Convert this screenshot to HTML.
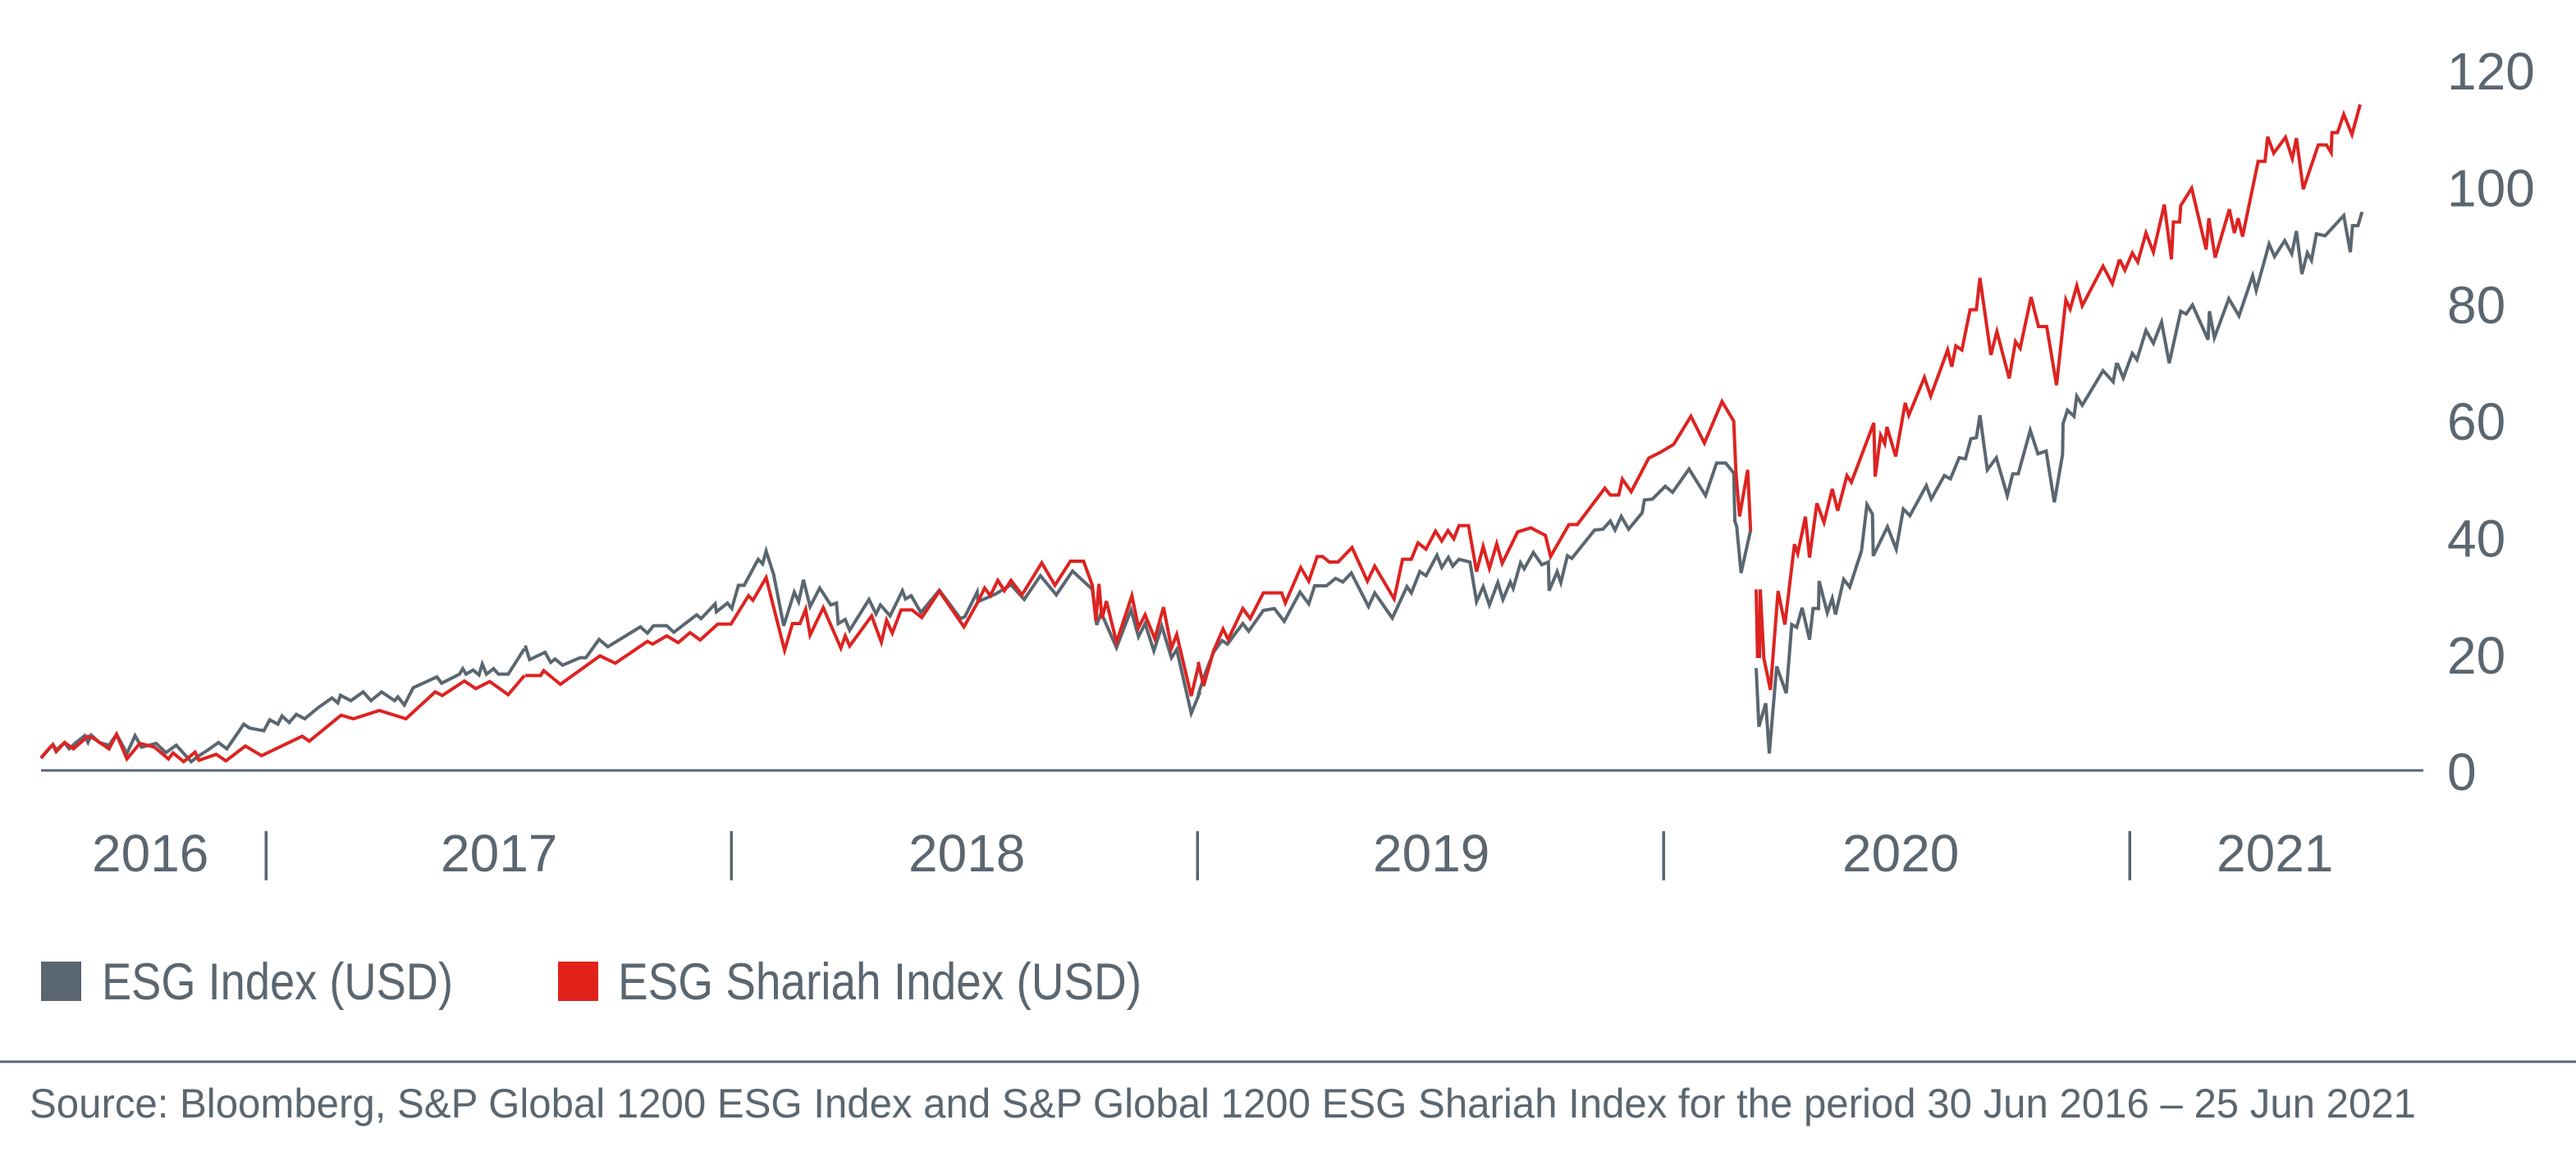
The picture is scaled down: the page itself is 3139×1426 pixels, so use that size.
<!DOCTYPE html>
<html>
<head>
<meta charset="utf-8">
<style>
  html,body{margin:0;padding:0;background:#ffffff;}
  svg{display:block;}
  text{font-family:"Liberation Sans", Arial, sans-serif; fill:#5a6670;}
  .ser{fill:none;stroke-width:4;stroke-miterlimit:4;}
  .g{stroke:#5a6670;}
  .r{stroke:#dd2320;}
</style>
</head>
<body>
<svg width="3139" height="1426" viewBox="0 0 3139 1426" xmlns="http://www.w3.org/2000/svg">
  <rect x="0" y="0" width="3139" height="1426" fill="#ffffff"/>

  <!-- zero axis line -->
  <rect x="50" y="937.5" width="2903" height="3" fill="#5a6670"/>

  <!-- Y axis labels -->
  <g font-size="64">
    <text x="2982" y="109">120</text>
    <text x="2982" y="251.5">100</text>
    <text x="2982" y="394">80</text>
    <text x="2982" y="536">60</text>
    <text x="2982" y="678.5">40</text>
    <text x="2982" y="821">20</text>
    <text x="2982" y="963">0</text>
  </g>

  <!-- GRAY series (ESG Index) -->
  <g transform="translate(40,620) scale(0.39541,0.33333)">
    <polyline class="ser g" vector-effect="non-scaling-stroke" points="25,912 45,885 62,862 72,882 98,855 112,878 130,858 160,830 170,855 180,828 205,855 235,865 258,825 290,895 315,830 335,872 358,865 380,858 410,892 442,865 488,925 510,905 540,882 572,855 598,878 650,788 668,802 712,812 730,772 755,788 768,758 790,782 812,752 838,768 880,727 922,692 940,710 948,682 980,702 1018,670 1042,702 1075,670 1115,702 1125,688 1145,718 1172,655 1245,615 1260,638 1315,605 1325,585 1335,605 1357,590 1375,608 1385,568 1398,605 1420,585 1435,605 1465,605 1515,512"/>
  </g>
  <g transform="translate(640,600) scale(0.53571,0.33333)">
    <polyline class="ser g" vector-effect="non-scaling-stroke" points="0,560 10,612 45,585 58,622 68,610 85,632 125,605 138,605 168,538 188,565 262,492 278,515 292,488 322,488 338,512 390,448 400,462 432,408 435,437 460,405 470,425 485,340 498,340 530,245 540,262 548,215 565,300 588,488 612,365 622,400 633,320 648,418 670,350 695,412 708,405 712,480 728,465 738,505 782,392 798,445 808,412 830,452 858,360 865,390 878,378 900,440 942,358 990,462 1000,455 1028,365 1030,400 1070,372 1105,338 1135,392 1172,305 1208,375 1245,288 1290,355 1300,485 1310,440 1345,568 1378,430 1395,528 1410,480 1430,580 1448,490 1470,605 1482,575 1515,808 1535,730"/>
  </g>
  <g transform="translate(1460,430) scale(0.44643,0.33333)">
    <polyline class="ser g" vector-effect="non-scaling-stroke" points="0,1250 20,1170 42,1095 65,1052 80,1065 122,990 138,1018 178,942 208,935 235,982 278,875 302,918 318,852 350,852 375,825 395,838 418,805 465,928 482,878 530,970 570,855 582,878 605,800 622,815 652,740 665,785 683,748 695,780 712,755 742,765 760,910 778,855 795,922 818,840 832,902 852,838 860,862 880,768 890,790 915,730 938,775 956,765 958,870 980,800 990,840 1008,742 1020,752 1082,648 1105,645 1125,615 1138,648 1155,598 1175,645 1212,585 1218,538 1240,535 1275,488 1295,510 1340,425 1385,522 1415,403 1440,403 1462,440 1465,615 1470,635 1482,805 1508,648"/>
  </g>
  <g transform="translate(2140,300) scale(0.33333,0.40816)">
    <polyline class="ser g" vector-effect="non-scaling-stroke" points="0,1260 10,1435 35,1365 48,1515 75,1255 110,1335 130,1130 148,1138 168,1080 195,1175 208,1082 228,1082 230,1000 260,1095 278,1052 290,1100 320,995 342,1018 385,910 405,772 425,800 428,925 480,838 512,905 538,785 562,805 622,715 640,755 688,685 710,695 742,632 765,635 785,575 805,572 818,505 845,668 878,632 918,745 938,680 958,680 1002,550 1030,620 1060,612 1090,765 1120,622 1122,530 1138,490 1162,508 1172,448 1192,475 1268,372 1305,405 1318,348"/>
  </g>
  <g transform="translate(2580,60) scale(0.33333,0.33333)">
    <polyline class="ser g" vector-effect="non-scaling-stroke" points="0,1148 22,1202 55,1112 72,1135 105,1028 132,1075 162,998 190,1148 232,958 252,968 275,935 332,1062 337,958 355,1055 408,912 445,975 495,828 508,882 555,712 575,758 612,700 638,748 655,665 675,822 695,745 710,772 728,675 760,682 828,608 852,742 860,645 880,645 895,595"/>
  </g>

  <!-- RED series (ESG Shariah Index) -->
  <g transform="translate(40,620) scale(0.39541,0.33333)">
    <polyline class="ser r" vector-effect="non-scaling-stroke" points="25,912 42,888 55,870 62,863 72,888 98,855 125,878 170,832 185,838 210,858 235,878 258,825 290,915 330,858 375,872 418,915 432,893 465,925 500,890 512,920 565,898 595,922 655,868 705,903 830,832 852,850 950,755 988,768 1068,738 1150,768 1240,670 1262,683 1330,630 1365,658 1408,632 1465,680 1515,610"/>
  </g>
  <g transform="translate(640,600) scale(0.53571,0.33333)">
    <polyline class="ser r" vector-effect="non-scaling-stroke" points="0,670 35,670 42,652 80,702 170,598 205,625 278,545 290,555 322,525 348,550 375,513 398,540 438,482 468,482 508,378 518,395 548,312 590,578 608,480 625,480 638,428 648,522 678,422 718,570 728,525 738,562 788,452 810,548 822,468 835,515 855,430 880,430 902,458 942,362 998,492 1030,400 1045,350 1058,378 1075,322 1090,360 1105,322 1130,375 1175,258 1205,340 1240,252 1270,252 1290,340 1298,470 1305,335 1312,462 1322,398 1345,548 1380,378 1395,495 1410,448 1432,535 1452,420 1470,570 1482,520 1515,745 1532,630"/>
  </g>
  <g transform="translate(1460,430) scale(0.44643,0.33333)">
    <polyline class="ser r" vector-effect="non-scaling-stroke" points="0,1130 15,1218 42,1090 68,1010 82,1048 122,935 142,972 178,878 228,878 238,915 280,785 302,835 325,745 340,745 358,765 382,765 420,712 462,835 482,780 535,900 558,755 582,755 600,695 622,718 648,652 665,688 682,650 698,680 712,632 738,632 760,800 778,708 795,788 815,698 830,770 872,655 908,640 948,668 962,745 1012,628 1035,628 1110,495 1125,520 1148,520 1158,462 1182,508 1230,385 1260,365 1298,335 1345,232 1382,330 1430,178 1462,250 1468,440 1478,598 1500,428 1508,650"/>
  </g>
  <g transform="translate(2140,300) scale(0.33333,0.40816)">
    <polyline class="ser r" vector-effect="non-scaling-stroke" points="0,1025 5,1225 12,1225 15,1025 28,1230 52,1325 80,1030 105,1130 140,890 152,918 180,808 195,930 222,768 248,825 278,725 298,790 332,685 348,705 430,528 435,688 455,565 470,590 478,540 510,628 545,468 558,505 615,392 638,448 700,310 715,360 730,298 752,310 782,190 805,190 818,95 858,325 880,255 925,395 948,285 965,305 1005,152 1032,240 1062,240 1098,415 1132,160 1148,188 1172,118 1192,178 1268,60 1302,112 1328,40"/>
  </g>
  <g transform="translate(2580,60) scale(0.33333,0.33333)">
    <polyline class="ser r" vector-effect="non-scaling-stroke" points="8,768 28,808 55,745 75,778 105,672 132,742 172,568 198,768 205,632 228,632 232,572 272,508 325,732 335,618 358,762 410,585 428,672 442,618 458,685 515,410 540,410 550,320 572,380 615,322 640,400 655,325 680,512 735,350 765,350 782,378 785,305 805,305 828,238 858,312 888,202"/>
  </g>

  <!-- X axis year labels and separators -->
  <g font-size="64">
    <text x="112" y="1062">2016</text>
    <text x="537" y="1062">2017</text>
    <text x="1107" y="1062">2018</text>
    <text x="1673" y="1062">2019</text>
    <text x="2245" y="1062">2020</text>
    <text x="2701" y="1062">2021</text>
  </g>
  <g fill="#5a6670">
    <rect x="322.5" y="1013" width="3.5" height="60"/>
    <rect x="889.5" y="1013" width="3.5" height="60"/>
    <rect x="1457.5" y="1013" width="3.5" height="60"/>
    <rect x="2025.5" y="1013" width="3.5" height="60"/>
    <rect x="2593.5" y="1013" width="3.5" height="60"/>
  </g>

  <!-- Legend -->
  <rect x="50" y="1172" width="49" height="48" fill="#5a6670"/>
  <text x="124" y="1218" font-size="63" textLength="428" lengthAdjust="spacingAndGlyphs">ESG Index (USD)</text>
  <rect x="680" y="1172" width="49" height="48" fill="#e1221b"/>
  <text x="753" y="1218" font-size="63" textLength="638" lengthAdjust="spacingAndGlyphs">ESG Shariah Index (USD)</text>

  <!-- Separator rule -->
  <rect x="0" y="1292.5" width="3139" height="3" fill="#5a6670"/>

  <!-- Source -->
  <text x="36" y="1362" font-size="50" textLength="2908" lengthAdjust="spacingAndGlyphs">Source: Bloomberg, S&amp;P Global 1200 ESG Index and S&amp;P Global 1200 ESG Shariah Index for the period 30 Jun 2016 – 25 Jun 2021</text>
</svg>
</body>
</html>
